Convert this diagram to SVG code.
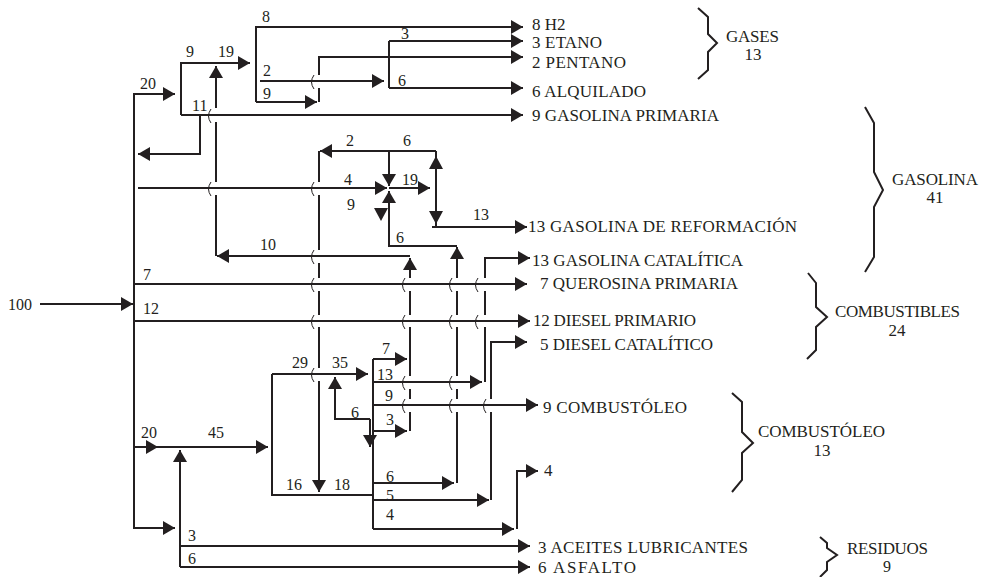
<svg xmlns="http://www.w3.org/2000/svg" width="984" height="577" viewBox="0 0 984 577">
<style>
.ln{stroke:#231f20;stroke-width:2;fill:none}
.bp{stroke:#231f20;stroke-width:1;fill:none}
.ah{fill:#231f20}
text{font-family:"Liberation Serif","DejaVu Serif",serif;font-size:16px;fill:#231f20}
.o{font-size:17px}
.c{text-anchor:middle;font-size:17px}
</style>
<defs>
<marker id="a" markerUnits="userSpaceOnUse" markerWidth="12" markerHeight="14" viewBox="0 0 12 14" refX="12" refY="7" orient="auto"><path d="M0,0 L12,7 L0,14 Z" fill="#231f20"/></marker>
</defs>
<rect width="984" height="577" fill="#fff"/>
<g id="connectors">
<path class="ln" d="M40,304 H133" marker-end="url(#a)"/>
<path class="ln" d="M134,93 V529"/>
<path class="ln" d="M134,94 H175" marker-end="url(#a)"/>
<path class="ln" d="M181,115 V63 H250" marker-end="url(#a)"/>
<path class="ln" d="M181,115 H523" marker-end="url(#a)"/>
<path class="ln" d="M216,256 V195"/>
<path class="ln" d="M216,182 V122"/>
<path class="ln" d="M216,108 V66" marker-end="url(#a)"/>
<path class="ln" d="M200,115 V154 H138" marker-end="url(#a)"/>
<path class="ln" d="M256,102 V27 H523" marker-end="url(#a)"/>
<path class="ln" d="M256,102 H317" marker-end="url(#a)"/>
<path class="ln" d="M319,102 V88"/>
<path class="ln" d="M319,75 V57 H523" marker-end="url(#a)"/>
<path class="ln" d="M260,81 H384" marker-end="url(#a)"/>
<path class="ln" d="M389,41 V88"/>
<path class="ln" d="M389,41 H523" marker-end="url(#a)"/>
<path class="ln" d="M389,88 H523" marker-end="url(#a)"/>
<path class="ln" d="M138,188 H387" marker-end="url(#a)"/>
<path class="ln" d="M436,151 H320" marker-end="url(#a)"/>
<path class="ln" d="M319,151 V182"/>
<path class="ln" d="M319,195 V250"/>
<path class="ln" d="M319,263 V278"/>
<path class="ln" d="M319,291 V315"/>
<path class="ln" d="M319,327 V368"/>
<path class="ln" d="M319,381 V492" marker-end="url(#a)"/>
<path class="ln" d="M389,151 V186" marker-end="url(#a)"/>
<path class="ln" d="M389,188 H430" marker-end="url(#a)"/>
<path class="ln" d="M457,246 H389 V191" marker-end="url(#a)"/>
<path class="ln" d="M436,151 V226"/>
<polygon class="ah" points="436,156 443,169 429,169"/>
<polygon class="ah" points="436,224 443,211 429,211"/>
<polygon class="ah" points="381,221 388,208 374,208"/>
<path class="ln" d="M432,227 H527" marker-end="url(#a)"/>
<path class="ln" d="M410,256 H217" marker-end="url(#a)"/>
<path class="ln" d="M134,284 H527" marker-end="url(#a)"/>
<path class="ln" d="M134,321 H530" marker-end="url(#a)"/>
<path class="ln" d="M410,278 V258" marker-end="url(#a)"/>
<path class="ln" d="M410,291 V315"/>
<path class="ln" d="M410,327 V376"/>
<path class="ln" d="M410,389 V399"/>
<path class="ln" d="M410,412 V431"/>
<path class="ln" d="M457,278 V247" marker-end="url(#a)"/>
<path class="ln" d="M457,291 V315"/>
<path class="ln" d="M457,327 V376"/>
<path class="ln" d="M457,389 V399"/>
<path class="ln" d="M457,412 V483"/>
<path class="ln" d="M485,278 V258 H530" marker-end="url(#a)"/>
<path class="ln" d="M485,291 V315"/>
<path class="ln" d="M485,327 V382"/>
<path class="ln" d="M491,399 V342 H527" marker-end="url(#a)"/>
<path class="ln" d="M491,412 V500"/>
<path class="ln" d="M517,529 V471 H538" marker-end="url(#a)"/>
<path class="ln" d="M373,359 V529"/>
<path class="ln" d="M373,359 H407" marker-end="url(#a)"/>
<path class="ln" d="M373,382 H482" marker-end="url(#a)"/>
<path class="ln" d="M373,405 H538" marker-end="url(#a)"/>
<path class="ln" d="M373,431 H407" marker-end="url(#a)"/>
<path class="ln" d="M373,483 H454" marker-end="url(#a)"/>
<path class="ln" d="M373,500 H489" marker-end="url(#a)"/>
<path class="ln" d="M373,529 H514" marker-end="url(#a)"/>
<path class="ln" d="M370,419 H335 V377" marker-end="url(#a)"/>
<path class="ln" d="M370,419 V447" marker-end="url(#a)"/>
<path class="ln" d="M272,374 H368" marker-end="url(#a)"/>
<path class="ln" d="M272,374 V495 H373"/>
<path class="ln" d="M134,447 H268" marker-end="url(#a)"/>
<polygon class="ah" points="158,447 146,440 146,454"/>
<path class="ln" d="M134,528 H175" marker-end="url(#a)"/>
<path class="ln" d="M180,567 V450" marker-end="url(#a)"/>
<path class="ln" d="M180,546 H530" marker-end="url(#a)"/>
<path class="ln" d="M180,567 H530" marker-end="url(#a)"/>
<g id="bumps">
<path class="bp" d="M314,75 Q309,82 314,89"/>
<path class="bp" d="M211,109 Q206,116 211,123"/>
<path class="bp" d="M211,182 Q206,189 211,196"/>
<path class="bp" d="M314,182 Q309,189 314,196"/>
<path class="bp" d="M314,250 Q309,257 314,264"/>
<path class="bp" d="M314,278 Q309,285 314,292"/>
<path class="bp" d="M405,278 Q400,285 405,292"/>
<path class="bp" d="M452,278 Q447,285 452,292"/>
<path class="bp" d="M478,278 Q473,285 478,292"/>
<path class="bp" d="M314,315 Q309,322 314,329"/>
<path class="bp" d="M405,315 Q400,322 405,329"/>
<path class="bp" d="M452,315 Q447,322 452,329"/>
<path class="bp" d="M478,315 Q473,322 478,329"/>
<path class="bp" d="M314,368 Q309,375 314,382"/>
<path class="bp" d="M405,376 Q400,383 405,390"/>
<path class="bp" d="M452,376 Q447,383 452,390"/>
<path class="bp" d="M405,399 Q400,406 405,413"/>
<path class="bp" d="M452,399 Q447,406 452,413"/>
<path class="bp" d="M486,399 Q481,406 486,413"/>
</g>
</g>
<g id="flow-labels">
<text x="140" y="89">20</text>
<text x="186" y="57">9</text>
<text x="218" y="57">19</text>
<text x="192" y="111">11</text>
<text x="262" y="22">8</text>
<text x="263" y="76">2</text>
<text x="263" y="99">9</text>
<text x="401" y="39">3</text>
<text x="398" y="86">6</text>
<text x="346" y="146">2</text>
<text x="403" y="146">6</text>
<text x="344" y="185">4</text>
<text x="402" y="185">19</text>
<text x="347" y="210">9</text>
<text x="473" y="220">13</text>
<text x="396" y="243">6</text>
<text x="260" y="250">10</text>
<text x="143" y="280">7</text>
<text x="143" y="314">12</text>
<text x="8" y="310">100</text>
<text x="292" y="368">29</text>
<text x="332" y="368">35</text>
<text x="382" y="354">7</text>
<text x="377" y="380">13</text>
<text x="385" y="401">9</text>
<text x="351" y="418">6</text>
<text x="386" y="425">3</text>
<text x="141" y="438">20</text>
<text x="208" y="438">45</text>
<text x="286" y="490">16</text>
<text x="334" y="490">18</text>
<text x="386" y="482">6</text>
<text x="386" y="501">5</text>
<text x="386" y="520">4</text>
<text x="188" y="541">3</text>
<text x="188" y="564">6</text>
</g>
<g id="out-h2"><text class="o" x="532" y="30">8 H2</text></g>
<g id="out-etano"><text class="o" x="532" y="48" textLength="70">3 ETANO</text></g>
<g id="out-pentano"><text class="o" x="532" y="68" textLength="94">2 PENTANO</text></g>
<g id="out-alquilado"><text class="o" x="532" y="97" textLength="114">6 ALQUILADO</text></g>
<g id="out-gas-primaria"><text class="o" x="532" y="121" textLength="187">9 GASOLINA PRIMARIA</text></g>
<g id="out-gas-reformacion"><text class="o" x="528" y="232" textLength="269">13 GASOLINA DE REFORMACIÓN</text></g>
<g id="out-gas-catalitica"><text class="o" x="532" y="266" textLength="211">13 GASOLINA CATALÍTICA</text></g>
<g id="out-querosina"><text class="o" x="540" y="289" textLength="198">7 QUEROSINA PRIMARIA</text></g>
<g id="out-diesel-primario"><text class="o" x="533" y="326" textLength="163">12 DIESEL PRIMARIO</text></g>
<g id="out-diesel-catalitico"><text class="o" x="540" y="350" textLength="173">5 DIESEL CATALÍTICO</text></g>
<g id="out-combustoleo"><text class="o" x="543" y="413" textLength="144">9 COMBUSTÓLEO</text></g>
<g id="out-4"><text class="o" x="544" y="476">4</text></g>
<g id="out-aceites"><text class="o" x="538" y="553" textLength="210">3 ACEITES LUBRICANTES</text></g>
<g id="out-asfalto"><text class="o" x="538" y="573" textLength="98">6 ASFALTO</text></g>
<g id="grp-gases">
<path class="ln" d="M698,8 L708,17 L708,34 L717,43 L708,52 L708,70 L698,79"/>
<text class="c" x="752.5" y="42" textLength="53">GASES</text>
<text class="c" x="753" y="60">13</text>
</g>
<g id="grp-gasolina">
<path class="ln" d="M865,107 L874,123 L874,172 L883,190 L874,207 L874,257 L865,272"/>
<text class="c" x="935" y="185" textLength="86">GASOLINA</text>
<text class="c" x="935" y="203">41</text>
</g>
<g id="grp-combustibles">
<path class="ln" d="M808,273 L816,283 L816,307 L827,317 L816,327 L816,350 L807,359"/>
<text class="c" x="897.5" y="317" textLength="125">COMBUSTIBLES</text>
<text class="c" x="897" y="336">24</text>
</g>
<g id="grp-combustoleo">
<path class="ln" d="M732,393 L742,402 L742,432 L753,443 L742,453 L742,480 L732,492"/>
<text class="c" x="821.5" y="437" textLength="127">COMBUSTÓLEO</text>
<text class="c" x="822" y="456">13</text>
</g>
<g id="grp-residuos">
<path class="ln" d="M820,537 L827,543 L827,548 L837,555 L827,562 L827,570 L820,577"/>
<text class="c" x="887.5" y="554" textLength="81">RESIDUOS</text>
<text class="c" x="887" y="572" style="font-size:16px">9</text>
</g>
</svg>
